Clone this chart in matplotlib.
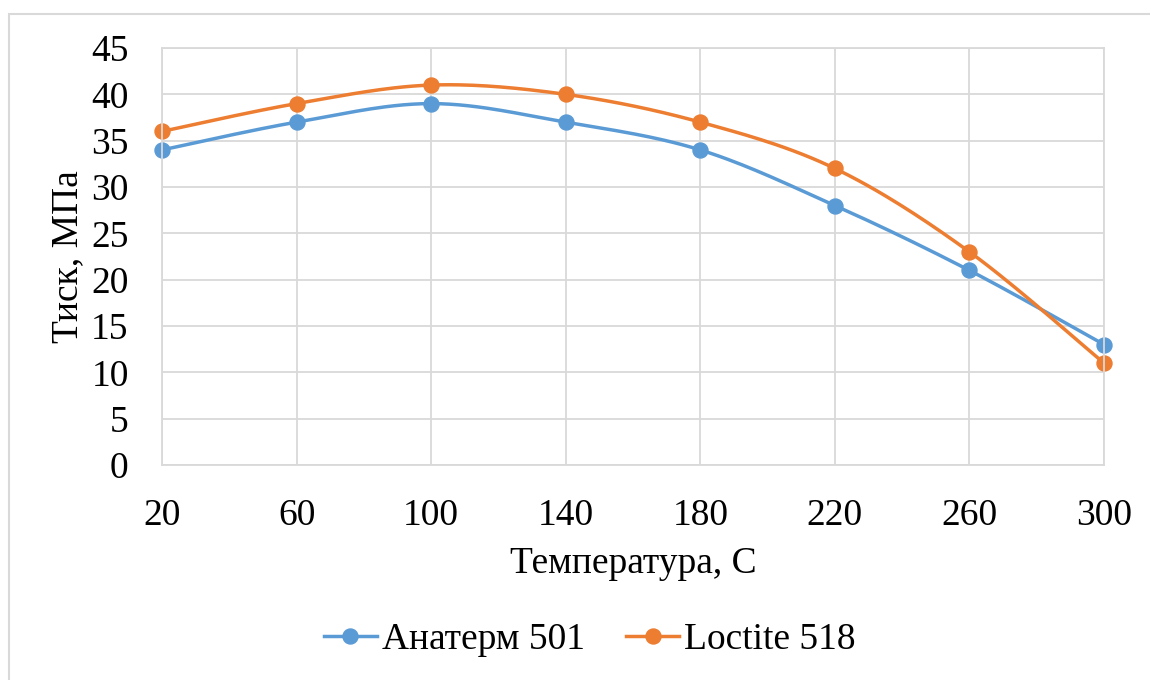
import numpy as np
import matplotlib.pyplot as plt
from matplotlib.patches import Rectangle

# data
temps = [20, 60, 100, 140, 180, 220, 260, 300]
anaterm = [34, 37, 39, 37, 34, 28, 21, 13]
loctite = [36, 39, 41, 40, 37, 32, 23, 11]
names = ['Анатерм 501', 'Loctite 518']
colors = ['#5B9BD5', '#ED7D31']

plt.rcParams['font.family'] = ['Liberation Serif', 'DejaVu Serif']
FS = 27


def smooth(x, y, steps=30):
    # excel-like smoothed line: bezier with catmull-rom control points
    x = np.asarray(x, float)
    y = np.asarray(y, float)
    n = len(x)
    xs, ys = [], []
    for i in range(n - 1):
        p0 = np.array([x[max(i - 1, 0)], y[max(i - 1, 0)]])
        p1 = np.array([x[i], y[i]])
        p2 = np.array([x[i + 1], y[i + 1]])
        p3 = np.array([x[min(i + 2, n - 1)], y[min(i + 2, n - 1)]])
        c1 = p1 + (p2 - p0) / 6
        c2 = p2 - (p3 - p1) / 6
        t = np.linspace(0, 1, steps)[:, None]
        pts = ((1 - t) ** 3) * p1 + 3 * ((1 - t) ** 2) * t * c1 + 3 * (1 - t) * t ** 2 * c2 + t ** 3 * p2
        xs.extend(pts[:, 0])
        ys.extend(pts[:, 1])
    return np.array(xs), np.array(ys)


fig = plt.figure(figsize=(11.5, 6.8), dpi=100)
# chart border
fig.patches.append(Rectangle((9 / 1150, -0.05), 1.2, 1 - 14 / 680 + 0.05, transform=fig.transFigure,
                             fill=False, edgecolor='#D9D9D9', linewidth=1.5))
ax = fig.add_axes([162 / 1150, 1 - 465 / 680, (1104 - 162) / 1150, (465 - 48) / 680])

for ys, name, c in zip([anaterm, loctite], names, colors):
    sx, sy = smooth(temps, ys)
    ax.plot(sx, sy, color=c, linewidth=2.5, solid_capstyle='round', clip_on=False)
    ax.plot(temps, ys, 'o', color=c, markersize=10.8, clip_on=False)
    ax.plot([], [], '-o', color=c, linewidth=2.5, markersize=10.8, label=name)

ax.set_xlim(20, 300)
ax.set_ylim(0, 45)
ax.set_xticks(temps)
ax.set_yticks(range(0, 46, 5))
ax.tick_params(length=0, labelsize=FS)
ax.tick_params(axis='y', pad=24)
ax.tick_params(axis='x', pad=24)
ax.grid(True, color='#D9D9D9', linewidth=1.3)
ax.set_axisbelow(True)
for s in ax.spines.values():
    s.set_color('#D9D9D9')
    s.set_linewidth(1.3)

ax.set_xlabel('Температура, С', fontsize=FS, labelpad=10)
ax.set_ylabel('Тиск, МПа', fontsize=FS, labelpad=4)

fig.legend(loc='center', bbox_to_anchor=(590 / 1150, 1 - 640 / 680), ncol=2, frameon=False,
           fontsize=FS, handlelength=1.4, handletextpad=0.15, columnspacing=1.1)

fig.savefig('out.png', dpi=100)
